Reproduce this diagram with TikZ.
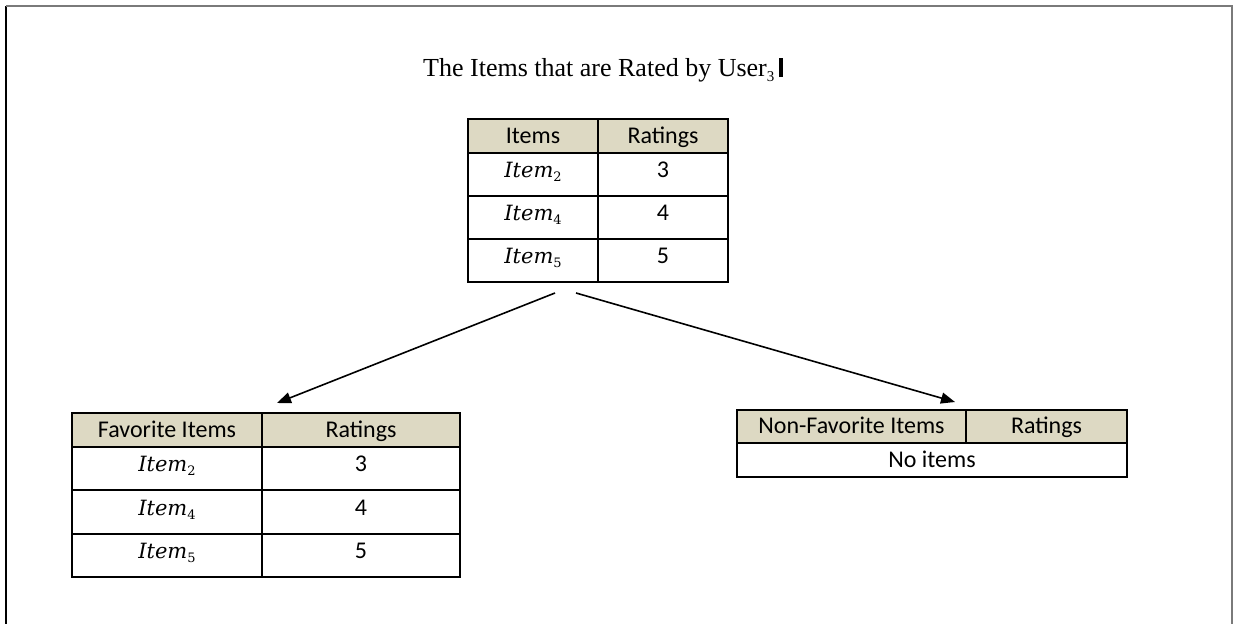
\documentclass[tikz,border=0pt]{standalone}
\usepackage{fontspec}
\setmainfont{Liberation Serif}
\newfontfamily\tablefont{Carlito}
\newfontfamily\itemfont{DejaVu Serif}
\usetikzlibrary{arrows.meta,calc}

\definecolor{headfill}{HTML}{DDD9C3}
\definecolor{framegray}{HTML}{7A7A7A}

% italic item name with a numeric subscript
\newcommand\itemsub[1]{{\itemfont\itshape Item}\raisebox{-4pt}{\itemfont\fontsize{13}{13}\selectfont #1}}

\tikzset{
  cell/.style={draw=black, line width=1.5pt, anchor=north west, inner sep=0pt,
    outer sep=0pt, font=\tablefont\fontsize{24}{27}\selectfont,
    text height=14pt, text depth=8pt},
  headcell/.style={cell, fill=headfill, text height=18pt, text depth=4pt},
  notecell/.style={cell, text height=18pt, text depth=3pt},
  itemcell/.style={cell, font=\itemfont\fontsize{21}{24}\selectfont},
  link/.style={line width=1.6pt, -{Triangle[length=14pt,width=11pt]}},
}

\begin{document}
\begin{tikzpicture}[x=1pt,y=-1pt]
\useasboundingbox (0,0) rectangle (1240,624);

% page frame
\draw[black, line width=1.5pt] (6,624) -- (6,6);
\draw[framegray, line width=2pt] (6,6) -- (1232,6) -- (1232,624);

% title
\node[anchor=base west, inner sep=0pt, font=\fontsize{26}{30}\selectfont] (title) at (423,76)
  {The Items that are Rated by User\raisebox{-5pt}{\fontsize{15}{15}\selectfont 3}\hspace{5pt}\rule[-1pt]{4pt}{19pt}};

% table of rated items
\begin{scope}[every node/.append style={minimum width=130pt}]
\node[headcell, minimum height=34pt] (top-h1) at (468,119) {Items};
\node[headcell, minimum height=34pt] (top-h2) at (598,119) {Ratings};
\node[itemcell, minimum height=43pt] (top-r1-1) at (468,153) {\itemsub{2}};
\node[cell, minimum height=43pt] (top-r1-2) at (598,153) {3};
\node[itemcell, minimum height=43pt] (top-r2-1) at (468,196) {\itemsub{4}};
\node[cell, minimum height=43pt] (top-r2-2) at (598,196) {4};
\node[itemcell, minimum height=43pt] (top-r3-1) at (468,239) {\itemsub{5}};
\node[cell, minimum height=43pt] (top-r3-2) at (598,239) {5};
\end{scope}

% favorite items
\node[headcell, minimum width=190pt, minimum height=34pt] (fav-h1) at (72,413) {Favorite Items};
\node[headcell, minimum width=198pt, minimum height=34pt] (fav-h2) at (262,413) {Ratings};
\node[itemcell, minimum width=190pt, minimum height=43pt] (fav-r1-1) at (72,447) {\itemsub{2}};
\node[cell, minimum width=198pt, minimum height=43pt] (fav-r1-2) at (262,447) {3};
\node[itemcell, minimum width=190pt, minimum height=44pt] (fav-r2-1) at (72,490) {\itemsub{4}};
\node[cell, minimum width=198pt, minimum height=44pt] (fav-r2-2) at (262,490) {4};
\node[itemcell, minimum width=190pt, minimum height=43pt] (fav-r3-1) at (72,534) {\itemsub{5}};
\node[cell, minimum width=198pt, minimum height=43pt] (fav-r3-2) at (262,534) {5};

% non-favorite items
\node[headcell, minimum width=229pt, minimum height=33pt] (non-h1) at (737,410) {Non-Favorite Items};
\node[headcell, minimum width=161pt, minimum height=33pt] (non-h2) at (966,410) {Ratings};
\node[notecell, minimum width=390pt, minimum height=34pt] (non-r1) at (737,443) {No items};

% split arrows
\draw[link] ($(top-r3-1.south east)+(-43,11)$) -- ($(fav-h1.north east)+(15,-10)$);
\draw[link] ($(top-r3-1.south east)+(-22,11)$) -- ($(non-h1.north east)+(-11,-8)$);
\end{tikzpicture}
\end{document}
